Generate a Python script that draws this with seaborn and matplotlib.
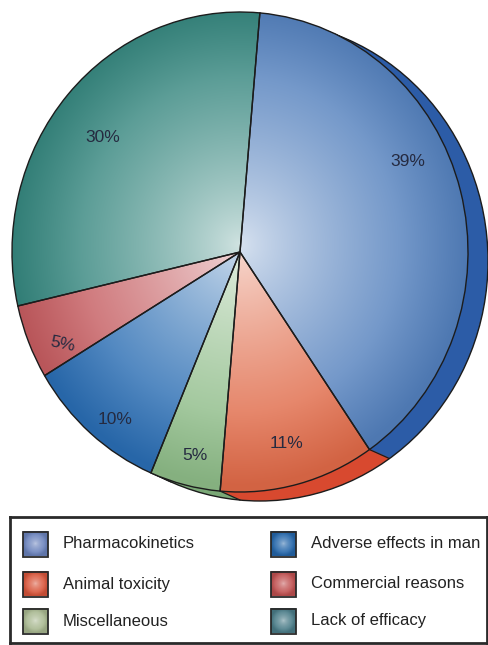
import numpy as np
import matplotlib
matplotlib.use("Agg")
import matplotlib.pyplot as plt
import seaborn as sns
from matplotlib.colors import to_rgb
from matplotlib.patches import Circle, Rectangle

# Reasons for attrition in drug development (% of failures)
categories = ["Pharmacokinetics", "Animal toxicity", "Miscellaneous",
              "Adverse effects in man", "Commercial reasons", "Lack of efficacy"]
shares = [39, 11, 5, 10, 5, 30]

face_colors = ["#5380bd", "#e06a48", "#8ebc88", "#2a6db3", "#c55c60", "#35867e"]
side_colors = ["#2c5ca7", "#d8492f", "#7aa876", "#1f5a9a", "#a84448", "#266a66"]
swatch_colors = ["#6a82bc", "#d8553a", "#a8b890", "#2466aa", "#c05050", "#4a7c88"]

# where each percentage text sits, in pie units, and its tilt
label_pos = [(0.737, 0.375), (0.206, -0.796), (-0.197, -0.846),
             (-0.548, -0.70), (-0.78, -0.383), (-0.601, 0.475)]
label_rot = [0, 0, 0, 0, -12, 0]

START = 85
DEPTH = (20 / 228, -9 / 240)

sns.set_theme(style="white")
plt.rcParams["font.family"] = ["Liberation Sans", "DejaVu Sans"]

W, H = 488, 645
fig = plt.figure(figsize=(W / 100, H / 100), dpi=100)
fig.patch.set_facecolor("white")

ax = fig.add_axes([0, 130 / H, 1, 515 / H])


def shaded(base, n=500, cx=0.0, cy=0.03, power=0.8, lift=0.78, edge=0.06):
    base = np.array(to_rgb(base))
    xs = np.linspace(-1, 1, n)
    X, Y = np.meshgrid(xs, xs)
    r = np.sqrt((X - cx) ** 2 + (Y - cy) ** 2)
    t = np.clip(r, 0, 1) ** power
    light = base + (1 - base) * lift
    rgb = light[None, None, :] * (1 - t[..., None]) + base[None, None, :] * t[..., None]
    dark = 1 - edge * np.clip((r - 0.7) / 0.3, 0, 1)
    return np.clip(rgb * dark[..., None], 0, 1)


# extruded side of the pie: stacked copies shifted towards the back
n_layers = 16
for k in range(n_layers, 0, -1):
    off = (DEPTH[0] * k / n_layers, DEPTH[1] * k / n_layers)
    ws, _ = ax.pie(shares, startangle=START, counterclock=False, radius=1,
                   center=off, colors=side_colors,
                   wedgeprops=dict(linewidth=0, antialiased=True))
    for w in ws:
        w.set_zorder(1 + (n_layers - k) * 0.01)

ax.add_patch(Circle(DEPTH, 1, fill=False, ec="#1c1c1c", lw=1.0, zorder=1.5))

# side edges where slices meet
bounds = np.concatenate([[0], np.cumsum(shares)])
for b in bounds[:-1]:
    th = np.deg2rad(START - 360 * b / sum(shares))
    px, py = np.cos(th), np.sin(th)
    ax.plot([px, px + DEPTH[0]], [py, py + DEPTH[1]], color="#1c1c1c",
            lw=0.9, zorder=1.6)

# front face with radial shading
wedges, _ = ax.pie(shares, startangle=START, counterclock=False, radius=1,
                   colors=face_colors,
                   wedgeprops=dict(edgecolor="#1c1c1c", linewidth=1.0))
for w, c in zip(wedges, face_colors):
    im = ax.imshow(shaded(c), extent=(-1, 1, -1, 1), origin="lower",
                   aspect="auto", interpolation="bilinear", zorder=2.5)
    im.set_clip_path(w)
    w.set_facecolor("none")
    w.set_zorder(3)

for (x, y), rot, v in zip(label_pos, label_rot, shares):
    ax.text(x, y, f"{v}%", ha="center", va="center", fontsize=12.5,
            color="#252a40", rotation=rot, zorder=5)

ax.set_aspect("auto")
ax.set_xlim(-240 / 228, 248 / 228)
ax.set_ylim((252 - 515) / 240, 252 / 240)
ax.axis("off")

# legend panel
lg = fig.add_axes([10 / W, 2 / H, 477 / W, 126 / H])
lg.set_xticks([])
lg.set_yticks([])
for s in lg.spines.values():
    s.set_color("#2a2a2a")
    s.set_linewidth(2.0)

sw = 25
col_x = [13, 261]
text_x = [53, 301]
row_y = [27, 67, 104]
for i, (name, c) in enumerate(zip(categories, swatch_colors)):
    col, row = divmod(i, 3)
    x0 = col_x[col]
    yc = row_y[row]
    img = shaded(c, n=60, cx=0.0, cy=0.0, power=0.6, lift=0.6, edge=0.1)
    lg.imshow(img, extent=(x0, x0 + sw, yc + sw / 2, yc - sw / 2),
              aspect="auto", interpolation="bilinear", zorder=2)
    lg.add_patch(Rectangle((x0, yc - sw / 2), sw, sw, fill=False,
                           ec="#2a2a2a", lw=1.3, zorder=3))
    lg.text(text_x[col], yc, name, ha="left", va="center", fontsize=12,
            color="#222222")
lg.set_xlim(0, 477)
lg.set_ylim(126, 0)

fig.savefig("out.png", dpi=100, facecolor="white")
